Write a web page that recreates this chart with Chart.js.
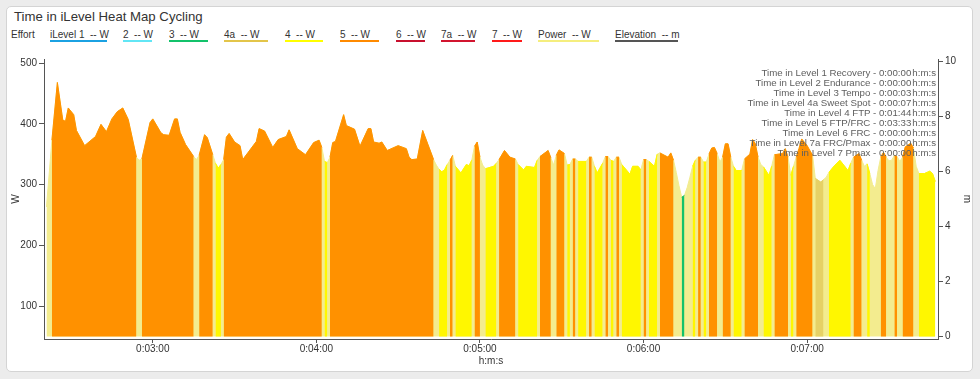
<!DOCTYPE html>
<html>
<head>
<meta charset="utf-8">
<script src="https://cdn.jsdelivr.net/npm/chart.js@4.4.1/dist/chart.umd.min.js"></script>
<style>
  html, body { margin:0; padding:0; width:980px; height:379px; overflow:hidden; background:#ececec;
    font-family:"Liberation Sans", Arial, Helvetica, sans-serif; }
  #panel { position:absolute; left:6px; top:6px; width:967px; height:366px; background:#fff;
    border:1px solid #d4d4d4; border-radius:5px; box-sizing:border-box; }
  #title { position:absolute; left:14px; top:10px; font-size:13.2px; line-height:1; color:#333; white-space:pre; }
  .lg { position:absolute; top:30px; font-size:10px; line-height:1; color:#333; white-space:pre; }
  .ul { position:absolute; top:40px; height:2px; }
  #levels { position:absolute; right:44px; top:68px; font-size:9.7px; line-height:10px; color:#5e5e5e;
    text-align:right; white-space:pre; z-index:5; }
  #levels span { margin-left:1px; }
  canvas { position:absolute; left:0; top:0; }
</style>
</head>
<body>
<div id="panel"></div>
<div id="title">Time in iLevel Heat Map Cycling</div>
<div id="legend"></div>
<canvas id="c" width="980" height="379" style="width:980px;height:379px"></canvas>
<div id="levels"></div>
<script>
// ---------------- data ----------------
const TIME_S = [141,143,145,147,148,149,151,152,155,159,161,163,165,167,169,171,174,175,176,179,180,183,184,186,188,189,190,192,195,196,197,199,200,202,203,204,205,206,207,208,210,212,213,215,218,219,221,224,226,229,230,233,236,239,241,242,243,244,245,246,247,250,251,254,256,259,260,261,263,264,266,270,273,274,275,277,279,283,284,285,286,287,288,289,290,291,293,295,296,297,298,299,300,301,302,305,306,307,309,311,313,314,316,317,320,321,322,325,326,327,328,329,331,332,333,334,335,336,339,340,341,342,343,345,346,347,348,349,350,351,352,355,356,358,359,360,361,362,364,365,366,369,370,371,372,373,374,375,376,377,378,379,380,381,382,383,384,385,386,387,388,389,390,391,392,393,394,396,397,399,400,401,402,403,404,406,407,408,411,412,413,414,415,416,417,418,420,422,423,425,426,427,428,430,432,435,436,437,438,439,440,441,442,443,444,445,446,447,448,449,450,451,452,453,454,455,456,458,459,460,461,463,465,466,467];
const POWER_W = [263,373,468,406,404,426,415,389,364,379,399,387,408,420,426,407,345,340,342,402,408,385,382,381,408,408,386,366,346,341,348,382,377,349,335,327,333,341,378,384,370,364,341,353,371,392,388,361,374,379,390,359,349,369,373,361,338,336,345,369,371,415,397,391,363,392,392,370,368,370,356,364,359,345,341,342,389,341,332,325,321,324,333,340,348,330,319,333,331,340,363,370,345,332,326,330,335,341,356,345,342,333,324,330,328,340,346,356,344,332,348,357,351,332,333,342,342,338,338,345,345,330,319,335,346,346,340,338,345,345,333,317,330,330,324,341,341,338,330,350,352,345,352,340,320,298,279,282,295,312,330,340,345,345,337,337,350,360,361,351,337,345,367,367,345,330,323,323,342,350,374,367,345,333,329,315,330,349,351,359,345,315,330,345,359,375,364,348,310,304,308,312,320,331,340,323,335,345,348,351,340,330,334,318,300,293,323,345,353,345,339,340,348,346,338,345,362,368,360,330,318,318,322,318,305];
const ZONE_OF = ['','5','5','5','5','5','5','5','5','5','5','5','5','5','5','5','5','','5','5','5','5','5','5','5','5','5','5','5','','5','5','5','5','4','4','4','5','5','5','5','5','5','5','5','5','5','5','5','5','5','5','5','5','5','5','4','4','5','5','5','5','5','5','5','5','5','5','5','5','5','5','5','5','5','5','5','5','','4','4','4','4','5','5','4','4','4','4','4','5','5','5','','4','4','4','5','5','5','5','4','4','4','4','4','5','5','5','','5','5','5','4','4','5','5','4','4','5','5','4','4','4','5','5','4','4','5','5','4','4','4','4','4','5','5','4','4','4','5','5','5','5','','','3','3','','','4','4','5','5','4','4','5','5','5','5','','5','5','5','5','4','4','4','5','5','5','5','5','','4','4','4','5','5','5','5','4','4','5','5','5','5','5','4a','4a','4a','','4','4','4','4','4','5','5','5','5','','4','4','','','','5','5','5','','','5','5','','5','5','5','5','','4','4','4','4','4'];
const ELEVATION_M = [];

const ZONE_KEYS   = ['1','2','3','4a','4','5','6','7a','7'];
const ZONE_COLORS = ['#1ba1e2','#62e6f5','#13c26b','#e6d165','#fff700','#ff9100','#c8102e','#d2152f','#ff1a1a'];
const POWER_COLOR = '#f3ec8f';

const W_TICKS = [100,200,300,400,500];
const M_TICKS = [0,2,4,6,8,10];
const X_TICKS = [180,240,300,360,420];
const X_TICK_LABELS = ['0:03:00','0:04:00','0:05:00','0:06:00','0:07:00'];

const LEGEND_LABELS = ['iLevel 1  -- W','2  -- W','3  -- W','4a  -- W','4  -- W','5  -- W','6  -- W','7a  -- W','7  -- W','Power  -- W','Elevation  -- m'];
const LEGEND_COLORS = ['#1ba1e2','#62e6f5','#13c26b','#e3c54a','#ffff00','#ff8a00','#c8102e','#d2152f','#ff1a1a','#f5ee7e','#555555'];

const LEVEL_LABELS = ['Time in Level 1 Recovery','Time in Level 2 Endurance','Time in Level 3 Tempo','Time in Level 4a Sweet Spot','Time in Level 4 FTP','Time in Level 5 FTP/FRC','Time in Level 6 FRC','Time in Level 7a FRC/Pmax','Time in Level 7 Pmax'];
const LEVEL_TIMES  = ['0:00:00','0:00:00','0:00:03','0:00:07','0:01:44','0:03:33','0:00:00','0:00:00','0:00:00'];

// ---------------- layout (not data) ----------------
const LEGEND_X = [50,123,169,224,285,340,396,441,492,538,615];
const LEGEND_W = [57,29,39,44,38,39,29,34,30,61,63];

// legend
const lg = document.getElementById('legend');
let h = '<div class="lg" style="left:11px">Effort</div>';
LEGEND_LABELS.forEach((t,i)=>{
  h += `<div class="lg" style="left:${LEGEND_X[i]}px">${t}</div>`;
  h += `<div class="ul" style="left:${LEGEND_X[i]}px;width:${LEGEND_W[i]}px;background:${LEGEND_COLORS[i]}"></div>`;
});
lg.innerHTML = h;

// level summary
document.getElementById('levels').innerHTML =
  LEVEL_LABELS.map((l,i)=>`${l} - ${LEVEL_TIMES[i]}<span>h:m:s</span>`).join('<br>');

// ---------------- chart ----------------
Chart.defaults.font.family = '"Liberation Sans", Arial, Helvetica, sans-serif';
Chart.defaults.font.size = 10;
Chart.defaults.color = '#333';

const datasets = ZONE_KEYS.map((z,i)=>({
  label: z,
  data: TIME_S.map((t,j)=>({x:t, y: ZONE_OF[j]===z ? POWER_W[j] : null})),
  borderColor: ZONE_COLORS[i],
  backgroundColor: ZONE_COLORS[i],
  borderWidth: 1,
  fill: {value: 50},
  pointRadius: 0,
  tension: 0,
  spanGaps: false,
  yAxisID: 'y'
}));
datasets.push({
  label: 'Power',
  data: TIME_S.map((t,j)=>({x:t, y:POWER_W[j]})),
  borderColor: POWER_COLOR,
  backgroundColor: POWER_COLOR,
  borderWidth: 1,
  fill: {value: 50},
  pointRadius: 0,
  tension: 0,
  yAxisID: 'y'
});
datasets.push({
  label: 'Elevation',
  data: ELEVATION_M,
  borderColor: '#555',
  borderWidth: 1,
  pointRadius: 0,
  fill: false,
  yAxisID: 'y1'
});

const axisColor = '#555';
new Chart(document.getElementById('c'), {
  type: 'line',
  data: { datasets },
  options: {
    responsive: false,
    animation: false,
    devicePixelRatio: 1,
    layout: { padding: { left: 0, top: 59, right: 6, bottom: 10 } },
    plugins: { legend: { display: false }, tooltip: { enabled: false }, title: { display: false } },
    scales: {
      x: {
        type: 'linear', min: 140.1, max: 468,
        afterBuildTicks: s => { s.ticks = X_TICKS.map(v=>({value:v})); },
        afterFit: s => { s.height = 30; },
        ticks: { autoSkip: false, maxRotation: 0, padding: 0, color: '#333',
          callback: (v) => X_TICK_LABELS[X_TICKS.indexOf(v)] },
        grid: { display: true, drawOnChartArea: false, drawTicks: true, tickLength: 4, color: axisColor },
        border: { display: true, color: axisColor, width: 1 },
        title: { display: true, text: 'h:m:s', color: '#333', font: { size: 10 }, padding: { top: 0, bottom: 2 } }
      },
      y: {
        type: 'linear', position: 'left', min: 45.7, max: 506.6,
        afterBuildTicks: s => { s.ticks = W_TICKS.map(v=>({value:v})); },
        afterFit: s => { s.width = 44; },
        ticks: { padding: 2, color: '#333' },
        grid: { display: true, drawOnChartArea: false, drawTicks: true, tickLength: 5, color: axisColor },
        border: { display: true, color: axisColor, width: 1 },
        title: { display: true, text: 'W', color: '#333', font: { size: 10 }, padding: { top: 10.5, bottom: 0 } }
      },
      y1: {
        type: 'linear', position: 'right', min: -0.109, max: 10.073,
        afterBuildTicks: s => { s.ticks = M_TICKS.map(v=>({value:v})); },
        afterFit: s => { s.width = 36; },
        ticks: { padding: 2, color: '#333' },
        grid: { display: true, drawOnChartArea: false, drawTicks: true, tickLength: 5, color: axisColor },
        border: { display: true, color: axisColor, width: 1 },
        title: { display: true, text: 'm', color: '#333', font: { size: 10 }, padding: { top: 1, bottom: 0 } }
      }
    }
  }
});
</script>
</body>
</html>
